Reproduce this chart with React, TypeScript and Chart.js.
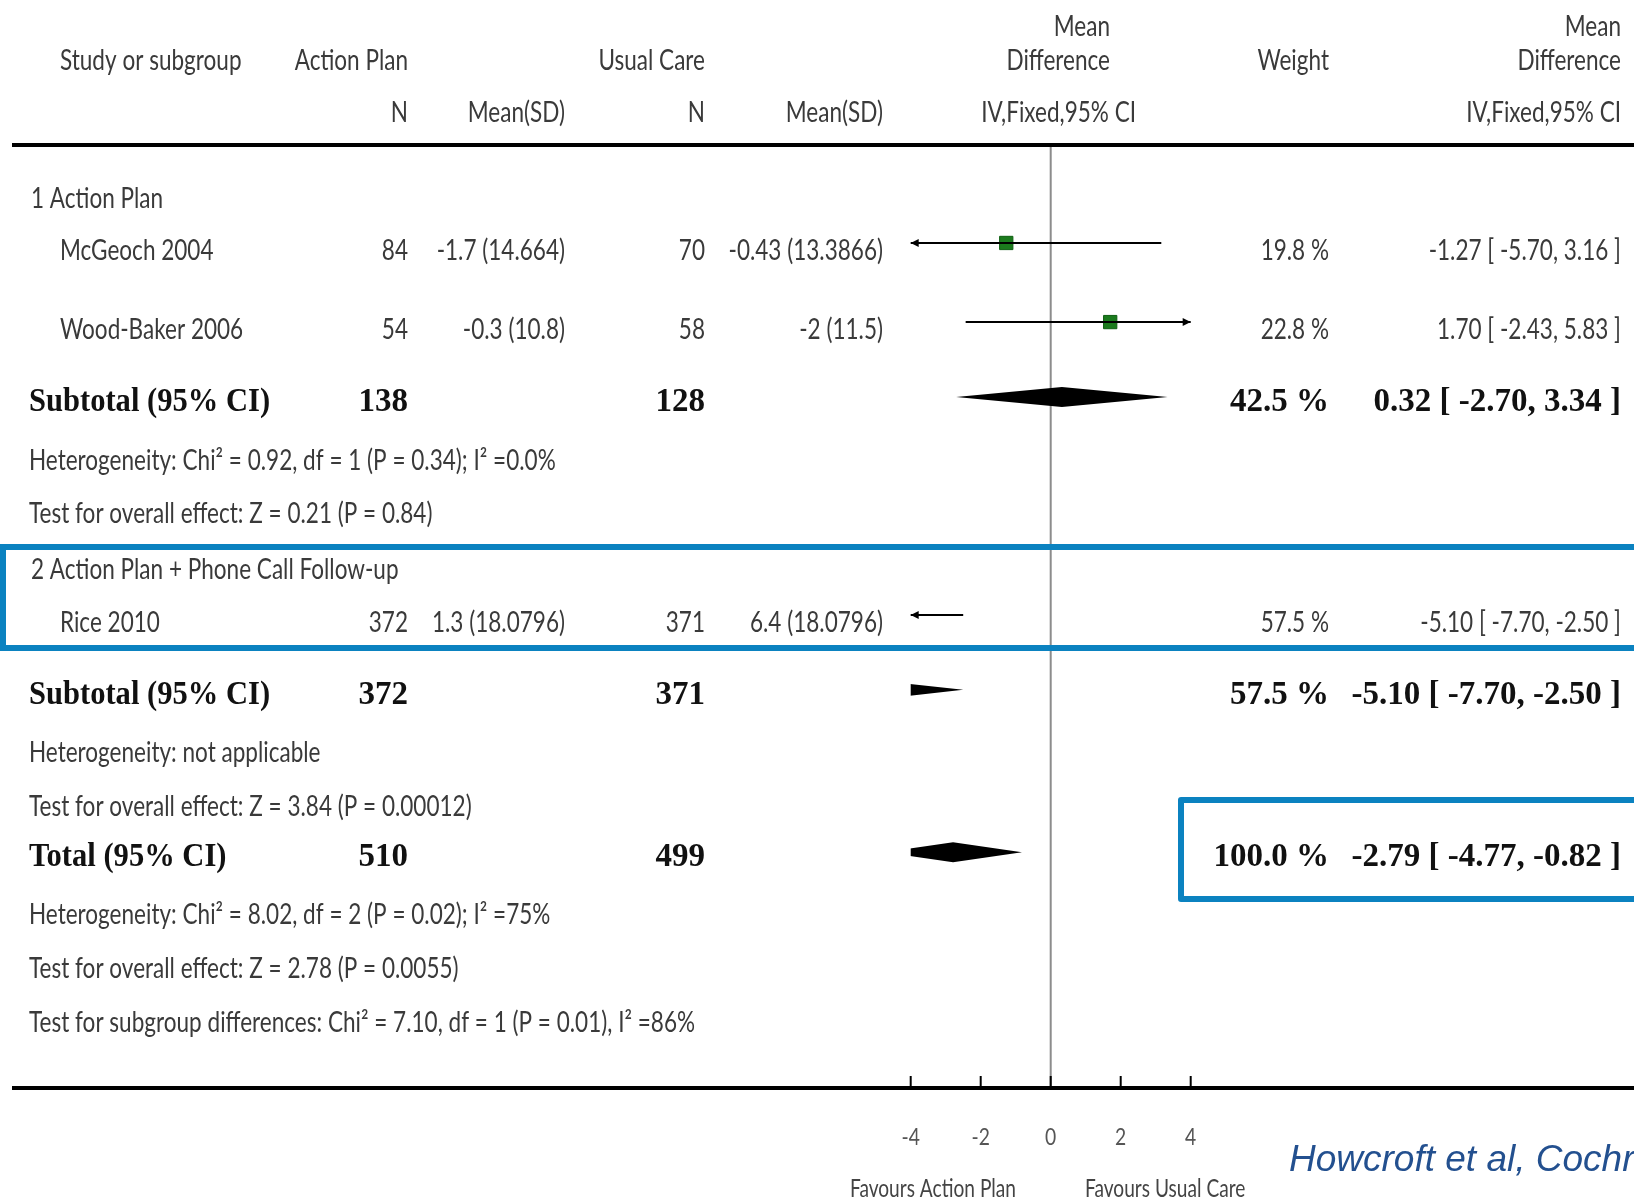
import React, { useEffect, useRef } from 'react';
import { Chart, registerables } from 'chart.js';

Chart.register(...registerables);

// ---------- data ----------
const studyNames = ['McGeoch 2004', 'Wood-Baker 2006', 'Rice 2010'];
const studyApN = [84, 54, 372];
const studyApMeanSD = ['-1.7 (14.664)', '-0.3 (10.8)', '1.3 (18.0796)'];
const studyUcN = [70, 58, 371];
const studyUcMeanSD = ['-0.43 (13.3866)', '-2 (11.5)', '6.4 (18.0796)'];
const studyMD = [-1.27, 1.7, -5.1];
const studyLow = [-5.7, -2.43, -7.7];
const studyHigh = [3.16, 5.83, -2.5];
const studyWeight = [19.8, 22.8, 57.5];

const pooledLabels = ['Subtotal (95% CI)', 'Subtotal (95% CI)', 'Total (95% CI)'];
const pooledApN = [138, 372, 510];
const pooledUcN = [128, 371, 499];
const pooledMD = [0.32, -5.1, -2.79];
const pooledLow = [-2.7, -7.7, -4.77];
const pooledHigh = [3.34, -2.5, -0.82];
const pooledWeight = [42.5, 57.5, 100.0];

const subgroupTitles = ['1 Action Plan', '2 Action Plan + Phone Call Follow-up'];
const statNotes = [
  'Heterogeneity: Chi\u00B2 = 0.92, df = 1 (P = 0.34); I\u00B2 =0.0%',
  'Test for overall effect: Z = 0.21 (P = 0.84)',
  'Heterogeneity: not applicable',
  'Test for overall effect: Z = 3.84 (P = 0.00012)',
  'Heterogeneity: Chi\u00B2 = 8.02, df = 2 (P = 0.02); I\u00B2 =75%',
  'Test for overall effect: Z = 2.78 (P = 0.0055)',
  'Test for subgroup differences: Chi\u00B2 = 7.10, df = 1 (P = 0.01), I\u00B2 =86%',
];
const xTicks = [-4, -2, 0, 2, 4];
const axisLabels = ['Favours Action Plan', 'Favours Usual Care'];
const citation = 'Howcroft et al, Cochrane 2014';

// ---------- layout (row positions in row units, y axis 0..18) ----------
const STUDY_ROWS = [1.87, 3.38, 8.97];
const POOLED_ROWS = [4.81, 10.4, 13.5];
const SUBGROUP_ROWS = [0.88, 7.96];
const NOTE_ROWS = [5.88, 6.89, 11.45, 12.48, 14.55, 15.58, 16.61];

const W = 1634;
const H = 1202;
const SANS = 'Lato';
const SX = 0.805;
const AXIS_SX = 0.765;
const SERIF_LABEL_SX = 0.926;
const SERIF_NUM_SX = 1.0;
const TEXT = '#3a3a3a';
const BLUE = '#0b82c0';

const COL = {
  name: 60,
  sub: 29,
  apN: 408,
  apMean: 565,
  ucN: 705,
  ucMean: 883,
  weight: 1329,
  ci: 1621,
};

function txt(ctx: CanvasRenderingContext2D, s: string, x: number, y: number, align: string, font: string, color: string, sx: number) {
  ctx.save();
  ctx.font = font;
  ctx.fillStyle = color;
  ctx.textBaseline = 'alphabetic';
  ctx.textAlign = 'left';
  const w = ctx.measureText(s).width * sx;
  const x0 = align === 'left' ? x : align === 'right' ? x - w : x - w / 2;
  ctx.translate(x0, y);
  ctx.scale(sx, 1);
  ctx.fillText(s, 0, 0);
  ctx.restore();
}

const fmtCI = (m: number, lo: number, hi: number) => `${m.toFixed(2)} [ ${lo.toFixed(2)}, ${hi.toFixed(2)} ]`;

const forestPlugin = {
  id: 'forestPlot',
  beforeDatasetsDraw(chart: any) {
    const { ctx, chartArea } = chart;
    const x = chart.scales.x;
    const y = chart.scales.y;
    // line of no effect
    ctx.save();
    ctx.strokeStyle = '#8c8c8c';
    ctx.lineWidth = 2;
    const x0 = x.getPixelForValue(0);
    ctx.beginPath();
    ctx.moveTo(x0, chartArea.top + 2);
    ctx.lineTo(x0, chartArea.bottom);
    ctx.stroke();
    ctx.restore();
    // pooled diamonds, clipped to the plot window
    ctx.save();
    ctx.beginPath();
    ctx.rect(chartArea.left, chartArea.top, chartArea.right - chartArea.left, chartArea.bottom - chartArea.top);
    ctx.clip();
    ctx.fillStyle = '#000';
    const DH = 10;
    pooledMD.forEach((m, i) => {
      const yy = y.getPixelForValue(POOLED_ROWS[i]);
      ctx.beginPath();
      ctx.moveTo(x.getPixelForValue(pooledLow[i]), yy);
      ctx.lineTo(x.getPixelForValue(m), yy - DH);
      ctx.lineTo(x.getPixelForValue(pooledHigh[i]), yy);
      ctx.lineTo(x.getPixelForValue(m), yy + DH);
      ctx.closePath();
      ctx.fill();
    });
    ctx.restore();
  },
  afterDatasetsDraw(chart: any) {
    const { ctx, chartArea } = chart;
    const x = chart.scales.x;
    const y = chart.scales.y;
    ctx.save();
    ctx.fillStyle = '#000';
    studyMD.forEach((_, i) => {
      const yy = y.getPixelForValue(STUDY_ROWS[i]);
      if (studyLow[i] < x.min) {
        const l = chartArea.left;
        ctx.beginPath();
        ctx.moveTo(l, yy);
        ctx.lineTo(l + 8, yy - 4);
        ctx.lineTo(l + 8, yy + 4);
        ctx.closePath();
        ctx.fill();
      }
      if (studyHigh[i] > x.max) {
        const r = chartArea.right;
        ctx.beginPath();
        ctx.moveTo(r, yy);
        ctx.lineTo(r - 8, yy - 4);
        ctx.lineTo(r - 8, yy + 4);
        ctx.closePath();
        ctx.fill();
      }
    });
    ctx.restore();
  },
  afterDraw(chart: any) {
    const { ctx, chartArea } = chart;
    const x = chart.scales.x;
    const y = chart.scales.y;
    const sans = `28px ${SANS}`;
    const serif = `bold 33px "Liberation Serif"`;

    // heavy rules
    ctx.save();
    ctx.strokeStyle = '#000';
    ctx.lineWidth = 4;
    ctx.beginPath();
    ctx.moveTo(12, chartArea.top);
    ctx.lineTo(W, chartArea.top);
    ctx.moveTo(12, chartArea.bottom);
    ctx.lineTo(W, chartArea.bottom);
    ctx.stroke();
    // ticks
    ctx.lineWidth = 2;
    xTicks.forEach((t) => {
      const px = x.getPixelForValue(t);
      ctx.beginPath();
      ctx.moveTo(px, chartArea.bottom - 12);
      ctx.lineTo(px, chartArea.bottom);
      ctx.stroke();
    });
    ctx.restore();
    xTicks.forEach((t) => {
      txt(ctx, String(t), x.getPixelForValue(t), chartArea.bottom + 57, 'center', `24px ${SANS}`, '#555', SX);
    });
    txt(ctx, axisLabels[0], 1016, 1197, 'right', `25px ${SANS}`, '#444', AXIS_SX);
    txt(ctx, axisLabels[1], 1085, 1197, 'left', `25px ${SANS}`, '#444', AXIS_SX);

    // header
    txt(ctx, 'Study or subgroup', COL.name, 70, 'left', sans, TEXT, SX);
    txt(ctx, 'Action Plan', COL.apN, 70, 'right', sans, TEXT, SX);
    txt(ctx, 'Usual Care', COL.ucN, 70, 'right', sans, TEXT, SX);
    txt(ctx, 'N', COL.apN, 122, 'right', sans, TEXT, SX);
    txt(ctx, 'Mean(SD)', COL.apMean, 122, 'right', sans, TEXT, SX);
    txt(ctx, 'N', COL.ucN, 122, 'right', sans, TEXT, SX);
    txt(ctx, 'Mean(SD)', COL.ucMean, 122, 'right', sans, TEXT, SX);
    txt(ctx, 'Mean', 1110, 36, 'right', sans, TEXT, SX);
    txt(ctx, 'Difference', 1110, 70, 'right', sans, TEXT, SX);
    txt(ctx, 'IV,Fixed,95% CI', 1136, 122, 'right', sans, TEXT, SX);
    txt(ctx, 'Weight', COL.weight, 70, 'right', sans, TEXT, SX);
    txt(ctx, 'Mean', COL.ci, 36, 'right', sans, TEXT, SX);
    txt(ctx, 'Difference', COL.ci, 70, 'right', sans, TEXT, SX);
    txt(ctx, 'IV,Fixed,95% CI', COL.ci, 122, 'right', sans, TEXT, SX);

    // subgroup titles
    subgroupTitles.forEach((s, i) => {
      txt(ctx, s, COL.sub + 2, y.getPixelForValue(SUBGROUP_ROWS[i]) + 17, 'left', sans, TEXT, SX);
    });
    // studies
    studyNames.forEach((s, i) => {
      const by = y.getPixelForValue(STUDY_ROWS[i]) + 17;
      txt(ctx, s, COL.name, by, 'left', sans, TEXT, SX);
      txt(ctx, String(studyApN[i]), COL.apN, by, 'right', sans, TEXT, SX);
      txt(ctx, studyApMeanSD[i], COL.apMean, by, 'right', sans, TEXT, SX);
      txt(ctx, String(studyUcN[i]), COL.ucN, by, 'right', sans, TEXT, SX);
      txt(ctx, studyUcMeanSD[i], COL.ucMean, by, 'right', sans, TEXT, SX);
      txt(ctx, `${studyWeight[i].toFixed(1)} %`, COL.weight, by, 'right', sans, TEXT, SX);
      txt(ctx, fmtCI(studyMD[i], studyLow[i], studyHigh[i]), COL.ci, by, 'right', sans, TEXT, SX);
    });
    // pooled rows
    pooledLabels.forEach((s, i) => {
      const by = y.getPixelForValue(POOLED_ROWS[i]) + 14;
      txt(ctx, s, COL.sub, by, 'left', serif, '#111', SERIF_LABEL_SX);
      txt(ctx, String(pooledApN[i]), COL.apN, by, 'right', serif, '#111', SERIF_NUM_SX);
      txt(ctx, String(pooledUcN[i]), COL.ucN, by, 'right', serif, '#111', SERIF_NUM_SX);
      txt(ctx, `${pooledWeight[i].toFixed(1)} %`, COL.weight, by, 'right', serif, '#111', SERIF_NUM_SX);
      txt(ctx, fmtCI(pooledMD[i], pooledLow[i], pooledHigh[i]), COL.ci, by, 'right', serif, '#111', SERIF_NUM_SX);
    });
    // notes
    statNotes.forEach((s, i) => {
      txt(ctx, s, COL.sub, y.getPixelForValue(NOTE_ROWS[i]) + 17, 'left', sans, TEXT, SX);
    });

    // highlight boxes
    ctx.save();
    ctx.strokeStyle = BLUE;
    ctx.lineWidth = 6;
    ctx.lineJoin = 'miter';
    ctx.strokeRect(3, 547, W + 20, 101);
    ctx.lineJoin = 'round';
    ctx.strokeRect(1181, 800, W, 99);
    ctx.restore();

    // citation
    txt(ctx, citation, 1289, 1171, 'left', `italic 37px "Liberation Sans"`, '#23508f', 1);
  },
};

export default function App() {
  const ref = useRef<HTMLCanvasElement | null>(null);
  useEffect(() => {
    document.body.style.margin = '0';
    document.body.style.overflow = 'hidden';
    const canvas = ref.current;
    if (!canvas) return;
    const datasets: any[] = [];
    studyMD.forEach((_, i) => {
      datasets.push({
        data: [
          { x: studyLow[i], y: STUDY_ROWS[i] },
          { x: studyHigh[i], y: STUDY_ROWS[i] },
        ],
        showLine: true,
        borderColor: '#000',
        borderWidth: 2,
        pointRadius: 0,
        clip: 0,
        order: 0,
      });
    });
    datasets.push({
      data: studyMD.map((m, i) => ({ x: m, y: STUDY_ROWS[i] })),
      showLine: false,
      pointStyle: 'rect',
      pointRadius: 9.4,
      backgroundColor: '#1b7b1d',
      borderColor: '#0f5f12',
      borderWidth: 1,
      clip: 0,
      order: 1,
    });
    const chart = new Chart(canvas, {
      type: 'scatter',
      data: { datasets },
      options: {
        animation: false,
        responsive: false,
        maintainAspectRatio: false,
        devicePixelRatio: 1,
        events: [],
        layout: { padding: { left: 910.7, right: W - 1190.7, top: 145, bottom: H - 1088 } },
        plugins: { legend: { display: false }, tooltip: { enabled: false } },
        scales: {
          x: { type: 'linear', min: -4, max: 4, display: false },
          y: { type: 'linear', min: 0, max: 18, reverse: true, display: false },
        },
      },
      plugins: [forestPlugin],
    } as any);
    return () => chart.destroy();
  }, []);
  return (
    <div style={{ width: W, height: H, background: '#fff' }}>
      <canvas ref={ref} width={W} height={H} style={{ display: 'block' }} />
    </div>
  );
}
